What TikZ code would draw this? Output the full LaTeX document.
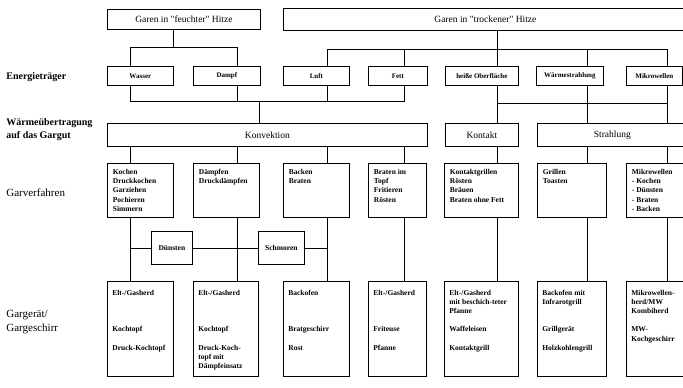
\documentclass[tikz,border=0pt]{standalone}
\usepackage{fontspec}
\setmainfont{Liberation Serif}
\newcommand\boxlines[1]{\begin{tabular}[t]{@{}l@{}}#1\end{tabular}}
\begin{document}
\begin{tikzpicture}[x=1pt,y=-1pt,
  line width=0.75pt,
  box/.style={draw, inner sep=0pt, anchor=north west},
  bigtxt/.style={font=\fontsize{9.5}{11}\selectfont},
  smalltxt/.style={font=\fontsize{7}{8.5}\selectfont\bfseries},
  t4/.style={anchor=base west, xshift=5.5pt, yshift=-11.5pt, inner sep=0pt, font=\fontsize{7.5}{9.2}\selectfont\bfseries},
  t5/.style={anchor=base west, xshift=5pt, yshift=-14pt, inner sep=0pt, font=\fontsize{7.5}{9.2}\selectfont\bfseries},
  labb/.style={anchor=west, inner sep=0pt, align=left, font=\fontsize{10}{13}\selectfont\bfseries},
  labr/.style={anchor=west, inner sep=0pt, align=left, font=\fontsize{11}{14}\selectfont},
  conn/.style={draw}
]
\useasboundingbox (0,0) rectangle (683,388);
\fill[white] (0,0) rectangle (683,388);
\clip (0,0) rectangle (683,388);

% column coordinates
\coordinate (cA) at (130,0);
\coordinate (cB) at (237,0);
\coordinate (cC) at (327,0);
\coordinate (cD) at (404,0);
\coordinate (cE) at (497,0);
\coordinate (cF) at (587,0);
\coordinate (cG) at (667,0);
\coordinate (cK) at (259,0);
\coordinate (cH) at (173,0);

% left labels
\node[labb] (l1) at (6,77) {Energieträger};
\node[labb] (l2) at (6,129.5) {Wärmeübertragung\\auf das Gargut};
\node[labr] (l3) at (6,193) {Garverfahren};
\node[labr] (l4) at (6,322) {Gargerät/\\Gargeschirr};

% row 1
\node[box, bigtxt, minimum width=153pt, minimum height=20pt] (feucht) at (107,9) {Garen in \textquotedbl feuchter\textquotedbl\ Hitze};
\node[box, bigtxt, minimum width=404pt, minimum height=22pt] (trocken) at (283,8) {Garen in \textquotedbl trockener\textquotedbl\ Hitze};

% row 2
\node[box, smalltxt, minimum width=66pt, minimum height=19pt] (wasser) at (107,66) {Wasser};
\node[box, smalltxt, minimum width=67pt, minimum height=19pt] (dampf) at (193,66) {Dampf};
\node[box, smalltxt, minimum width=66pt, minimum height=19pt] (luft) at (283,66) {Luft};
\node[box, smalltxt, minimum width=59pt, minimum height=19pt] (fett) at (368,66) {Fett};
\node[box, smalltxt, minimum width=73pt, minimum height=19pt] (heiss) at (445,66) {heiße Oberfläche};
\node[box, smalltxt, minimum width=67pt, minimum height=19pt] (waerme) at (536,66) {Wärmestrahlung};
\node[box, smalltxt, minimum width=56pt, minimum height=19pt] (mikro) at (626,66) {Mikrowellen};

% row 3
\node[box, bigtxt, minimum width=320pt, minimum height=23pt] (konv) at (107,123) {Konvektion};
\node[box, bigtxt, minimum width=73pt, minimum height=23pt] (kontakt) at (445,123) {Kontakt};
\node[box, bigtxt, minimum width=150pt, minimum height=23pt] (strahl) at (537,123) {Strahlung};

% row 4
\node[box, minimum width=66pt, minimum height=54pt] (r4a) at (107,163) {};
\node[box, minimum width=66pt, minimum height=54pt] (r4b) at (193,163) {};
\node[box, minimum width=66pt, minimum height=54pt] (r4c) at (283,163) {};
\node[box, minimum width=58pt, minimum height=54pt] (r4d) at (368,163) {};
\node[box, minimum width=74pt, minimum height=54pt] (r4e) at (444,163) {};
\node[box, minimum width=69pt, minimum height=54pt] (r4f) at (537,163) {};
\node[box, minimum width=62pt, minimum height=54pt] (r4g) at (626,163) {};
\node[t4] (r4at) at (r4a.north west) {\boxlines{Kochen\\Druckkochen\\Garziehen\\Pochieren\\Simmern}};
\node[t4] (r4bt) at (r4b.north west) {\boxlines{Dämpfen\\Druckdämpfen}};
\node[t4] (r4ct) at (r4c.north west) {\boxlines{Backen\\Braten}};
\node[t4] (r4dt) at (r4d.north west) {\boxlines{Braten im\\Topf\\Fritieren\\Rösten}};
\node[t4] (r4et) at (r4e.north west) {\boxlines{Kontaktgrillen\\Rösten\\Bräuen\\Braten ohne Fett}};
\node[t4] (r4ft) at (r4f.north west) {\boxlines{Grillen\\Toasten}};
\node[t4] (r4gt) at (r4g.north west) {\boxlines{Mikrowellen\\- Kochen\\- Dünsten\\- Braten\\- Backen}};

% Duensten / Schmoren
\node[box, font=\fontsize{7.5}{9}\selectfont\bfseries, minimum width=41pt, minimum height=33pt] (duen) at (151,231) {Dünsten};
\node[box, font=\fontsize{7.5}{9}\selectfont\bfseries, minimum width=46pt, minimum height=33pt] (schm) at (258,231) {Schmoren};

% row 5
\node[box, minimum width=66pt, minimum height=95pt] (r5a) at (107,281) {};
\node[box, minimum width=65pt, minimum height=95pt] (r5b) at (193,281) {};
\node[box, minimum width=66pt, minimum height=95pt] (r5c) at (283,281) {};
\node[box, minimum width=58pt, minimum height=95pt] (r5d) at (368,281) {};
\node[box, minimum width=74pt, minimum height=95pt] (r5e) at (444,281) {};
\node[box, minimum width=69pt, minimum height=95pt] (r5f) at (537,281) {};
\node[box, minimum width=62pt, minimum height=95pt] (r5g) at (626,281) {};
\node[t5] (r5at) at (r5a.north west) {\boxlines{Elt-/Gasherd\\ \\ \\ \\Kochtopf\\ \\Druck-Kochtopf}};
\node[t5] (r5bt) at (r5b.north west) {\boxlines{Elt-/Gasherd\\ \\ \\ \\Kochtopf\\ \\Druck-Koch-\\topf mit\\Dämpfeinsatz}};
\node[t5] (r5ct) at (r5c.north west) {\boxlines{Backofen\\ \\ \\ \\Bratgeschirr\\ \\Rost}};
\node[t5] (r5dt) at (r5d.north west) {\boxlines{Elt-/Gasherd\\ \\ \\ \\Friteuse\\ \\Pfanne}};
\node[t5] (r5et) at (r5e.north west) {\boxlines{Elt-/Gasherd\\mit beschich-teter\\Pfanne\\ \\Waffeleisen\\ \\Kontaktgrill}};
\node[t5] (r5ft) at (r5f.north west) {\boxlines{Backofen mit\\Infrarotgrill\\ \\ \\Grillgerät\\ \\Holzkohlengrill}};
\node[t5] (r5gt) at (r5g.north west) {\boxlines{Mikrowellen-\\herd/MW\\Kombiherd\\ \\MW-\\Kochgeschirr}};

% junction coordinates
\coordinate (jF) at (173,47);
\coordinate (f1) at (130,47);
\coordinate (f2) at (237,47);
\coordinate (jT) at (497,49);
\coordinate (t1) at (327,49);
\coordinate (t5) at (667,49);
\coordinate (u1) at (130,101);
\coordinate (u4) at (404,101);
\coordinate (v1) at (497,103);
\coordinate (v3) at (667,103);

% row 1 -> row 2
\draw (feucht.south -| cH) -- (jF);
\draw (wasser.north -| f1) -- (f1) -- (f2) -- (dampf.north -| f2);
\draw (trocken.south -| jT) -- (heiss.north -| jT);
\draw (luft.north -| t1) -- (t1) -- (t5) -- (mikro.north -| t5);
\draw (fett.north -| cD) -- (t1 -| cD);
\draw (waerme.north -| cF) -- (t1 -| cF);

% row 2 -> row 3
\draw (wasser.south -| u1) -- (u1) -- (u4) -- (fett.south -| u4);
\draw (dampf.south -| cB) -- (u1 -| cB);
\draw (luft.south -| cC) -- (u1 -| cC);
\draw (u1 -| cK) -- (konv.north -| cK);
\draw (heiss.south -| cE) -- (kontakt.north -| cE);
\draw (v1) -- (v3);
\draw (waerme.south -| cF) -- (strahl.north -| cF);
\draw (mikro.south -| cG) -- (strahl.north -| cG);

% row 3 -> row 4
\draw (konv.south -| cA) -- (r4a.north -| cA);
\draw (konv.south -| cB) -- (r4b.north -| cB);
\draw (konv.south -| cC) -- (r4c.north -| cC);
\draw (konv.south -| cD) -- (r4d.north -| cD);
\draw (kontakt.south -| cE) -- (r4e.north -| cE);
\draw (strahl.south -| cF) -- (r4f.north -| cF);
\draw (strahl.south -| cG) -- (r4g.north -| cG);

% row 4 -> row 5
\draw (r4a.south -| cA) -- (r5a.north -| cA);
\draw (r4b.south -| cB) -- (r5b.north -| cB);
\draw (r4c.south -| cC) -- (r5c.north -| cC);
\draw (r4d.south -| cD) -- (r5d.north -| cD);
\draw (r4e.south -| cE) -- (r5e.north -| cE);
\draw (r4f.south -| cF) -- (r5f.north -| cF);
\draw (r4g.south -| cG) -- (r5g.north -| cG);

% Duensten / Schmoren connections
\draw (duen.west -| cA) -- (duen.west);
\draw (duen.east) -- (duen.east -| cB);
\draw (schm.west -| cB) -- (schm.west);
\draw (schm.east) -- (schm.east -| cC);
\end{tikzpicture}
\end{document}
